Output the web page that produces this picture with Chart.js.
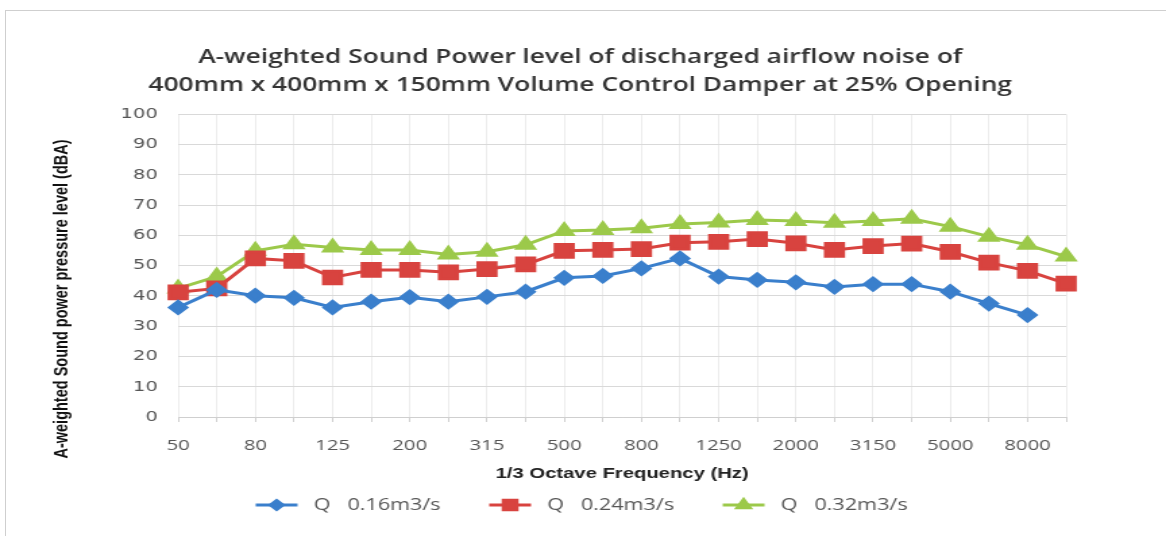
<!DOCTYPE html>
<html>
<head>
<meta charset="utf-8">
<script src="https://cdn.jsdelivr.net/npm/chart.js@4/dist/chart.umd.min.js"></script>
<style>
  html, body { margin: 0; padding: 0; background: #fff; }
  #wrap { position: relative; width: 1166px; height: 536px; overflow: hidden; }
  #frame { position: absolute; left: 5px; top: 10px; width: 1200px; height: 600px; border: 1px solid #cfcfcf; }
  /* the source picture is stretched sideways, so the canvas is too */
  #chart { position: absolute; left: 0; top: 0; }
</style>
</head>
<body>
<div id="wrap">
  <div id="frame"></div>
  <canvas id="chart" width="864" height="536" style="width:1166px;height:536px"></canvas>
</div>
<script>
const frequencies = ['50', '63', '80', '100', '125', '160', '200', '250', '315', '400', '500', '630',
                     '800', '1000', '1250', '1600', '2000', '2500', '3150', '4000', '5000', '6300', '8000', '10000'];

const q016 = [36.2, 42.0, 40.1, 39.4, 36.2, 38.1, 39.6, 38.1, 39.7, 41.4, 46.0, 46.6,
              49.1, 52.4, 46.4, 45.3, 44.5, 43.0, 43.9, 43.9, 41.4, 37.5, 33.7, null];
const q024 = [41.2, 42.5, 52.4, 51.6, 46.1, 48.6, 48.6, 47.8, 48.9, 50.4, 54.9, 55.2,
              55.5, 57.6, 57.9, 58.8, 57.4, 55.2, 56.5, 57.3, 54.6, 51.0, 48.3, 44.1];
const q032 = [42.5, 46.4, 54.9, 57.1, 56.0, 55.2, 55.2, 53.7, 54.6, 56.9, 61.5, 61.8,
              62.4, 63.8, 64.3, 65.1, 64.8, 64.2, 64.8, 65.5, 62.9, 59.6, 56.9, 53.0];

const seriesNames = ['Q   0.16m3/s', 'Q   0.24m3/s', 'Q   0.32m3/s'];
const yTicks = [0, 10, 20, 30, 40, 50, 60, 70, 80, 90, 100];
const yTitle = 'A-weighted Sound power pressure level (dBA)';

const blue = '#3a7fcc';
const red = '#d8433f';
const green = '#9cc94a';

// Excel style legend: short line with the marker on it, centred under the chart
// plus the y title, which in the source hangs lower than the plot
const extras = {
  id: 'extras',
  afterDraw(chart) {
    const ctx = chart.ctx;
    ctx.save();
    ctx.translate(46, 299);
    ctx.rotate(-Math.PI / 2);
    ctx.font = 'bold 14.5px "Liberation Sans"';
    ctx.fillStyle = '#111';
    ctx.textAlign = 'center';
    ctx.textBaseline = 'middle';
    ctx.fillText(yTitle, 0, 0);
    ctx.restore();

    const lineLen = 31, gap = 12, itemGap = 36, y = 505;
    ctx.save();
    ctx.font = '16px "Open Sans"';
    ctx.textBaseline = 'middle';
    const widths = chart.data.datasets.map(ds => lineLen + gap + ctx.measureText(ds.label).width);
    const total = widths.reduce((a, b) => a + b, 0) + itemGap * (widths.length - 1);
    let x = 431 - total / 2;
    chart.data.datasets.forEach((ds, i) => {
      ctx.strokeStyle = ds.borderColor;
      ctx.lineWidth = 3;
      ctx.beginPath();
      ctx.moveTo(x, y);
      ctx.lineTo(x + lineLen, y);
      ctx.stroke();
      ctx.fillStyle = ds.pointBackgroundColor;
      ctx.strokeStyle = ds.pointBorderColor;
      Chart.helpers.drawPoint(ctx, {
        pointStyle: ds.pointStyle, radius: ds.pointRadius * 0.75, rotation: 0, borderWidth: 1
      }, x + lineLen / 2, y);
      ctx.fillStyle = '#555';
      ctx.fillText(ds.label, x + lineLen + gap, y);
      x += widths[i] + itemGap;
    });
    ctx.restore();
  }
};

new Chart(document.getElementById('chart'), {
  type: 'line',
  data: {
    labels: frequencies,
    datasets: [
      { label: seriesNames[0], data: q016, borderColor: blue, backgroundColor: blue,
        pointBackgroundColor: blue, pointBorderColor: blue, pointStyle: 'rectRot', pointRadius: 6,
        borderWidth: 3, tension: 0 },
      { label: seriesNames[1], data: q024, borderColor: red, backgroundColor: red,
        pointBackgroundColor: red, pointBorderColor: red, pointStyle: 'rect', pointRadius: 9,
        borderWidth: 3, tension: 0 },
      { label: seriesNames[2], data: q032, borderColor: green, backgroundColor: green,
        pointBackgroundColor: green, pointBorderColor: green, pointStyle: 'triangle', pointRadius: 7,
        borderWidth: 3, tension: 0 }
    ]
  },
  options: {
    responsive: false,
    animation: false,
    layout: { padding: { left: 70, right: 74, top: 0, bottom: 53 } },
    plugins: {
      title: {
        display: true,
        text: ['A-weighted Sound Power level of discharged airflow noise of',
               '400mm x 400mm x 150mm Volume Control Damper at 25% Opening'],
        color: '#333',
        font: { family: 'Open Sans', size: 19.5, weight: '600', lineHeight: 1.42 },
        padding: { top: 44, bottom: 15 }
      },
      legend: { display: false },
      tooltip: { enabled: false }
    },
    scales: {
      x: {
        offset: false,
        afterFit(scale) { scale.height = 66; },
        grid: { color: '#ececec', drawTicks: true, tickLength: 5, tickColor: '#cfcfcf' },
        border: { color: '#cfcfcf' },
        ticks: {
          autoSkip: false, maxRotation: 0, color: '#555', padding: 15,
          font: { family: 'Open Sans', size: 15 },
          callback(value, index) { return index % 2 === 0 ? frequencies[index] : ''; }
        },
        title: {
          display: true, text: '1/3 Octave Frequency (Hz)', color: '#222',
          font: { family: 'Liberation Sans', size: 15, weight: 'bold' }, padding: { top: 8, bottom: 0 }
        }
      },
      y: {
        min: 0, max: 100,
        afterFit(scale) { scale.width = 62; },
        afterBuildTicks(scale) { scale.ticks = yTicks.map(v => ({ value: v })); },
        grid: { color: '#d9d9d9', drawTicks: false },
        border: { display: false },
        ticks: { color: '#555', padding: 15, font: { family: 'DejaVu Sans', size: 14.5 } },
        title: { display: false }
      }
    }
  },
  plugins: [extras]
});
</script>
</body>
</html>
